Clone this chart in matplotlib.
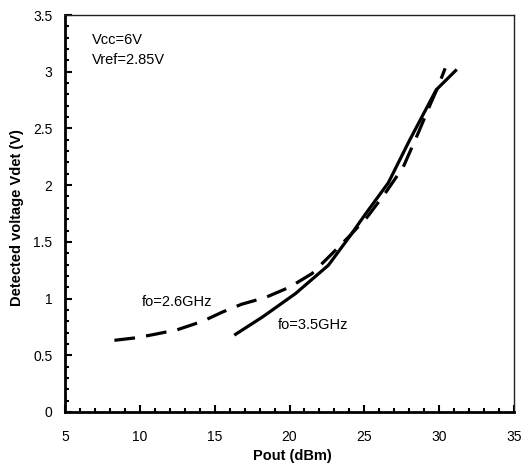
import matplotlib
matplotlib.use('Agg')
import matplotlib.pyplot as plt
from matplotlib.ticker import MultipleLocator

plt.rcParams['font.family'] = ['Liberation Sans', 'DejaVu Sans']

# fo = 2.6 GHz (dashed)
pout_26 = [8.3, 9.8, 11.0, 12.5, 14.2, 15.5, 16.8, 18.4, 20.0, 21.5, 22.8, 24.0, 25.2, 26.4, 27.6, 28.6, 29.4, 29.9, 30.4]
vdet_26 = [0.632, 0.655, 0.685, 0.725, 0.80, 0.88, 0.95, 1.01, 1.10, 1.22, 1.39, 1.55, 1.72, 1.93, 2.16, 2.46, 2.71, 2.86, 3.03]

# fo = 3.5 GHz (solid)
pout_35 = [16.4, 18.2, 20.4, 22.6, 24.0, 25.1, 26.6, 28.0, 29.8, 31.1]
vdet_35 = [0.685, 0.838, 1.044, 1.294, 1.544, 1.75, 2.02, 2.39, 2.84, 3.01]

fig = plt.figure(figsize=(5.23, 4.66), dpi=100)
ax = fig.add_axes([0.1243, 0.1159, 0.8585, 0.8519])

ax.plot(pout_26, vdet_26, color='black', lw=2.3, dashes=(6.5, 3.5))
ax.plot(pout_35, vdet_35, color='black', lw=2.3)

ax.set_xlim(5, 35)
ax.set_ylim(0, 3.5)
ax.xaxis.set_major_locator(MultipleLocator(5))
ax.xaxis.set_minor_locator(MultipleLocator(1))
ax.yaxis.set_major_locator(MultipleLocator(0.5))
ax.yaxis.set_minor_locator(MultipleLocator(0.1))
ax.set_yticks([0, 0.5, 1, 1.5, 2, 2.5, 3, 3.5])
ax.set_yticklabels(['0', '0.5', '1', '1.5', '2', '2.5', '3', '3.5'])

ax.tick_params(which='both', direction='in', labelsize=10, colors='black')
ax.tick_params(axis='x', which='major', length=5, width=1.5, pad=13)
ax.tick_params(axis='x', which='minor', length=3, width=1.5)
ax.tick_params(axis='y', which='major', length=5, width=1.5, pad=9)
ax.tick_params(axis='y', which='minor', length=3, width=1.5)

for s in ['left', 'bottom']:
    ax.spines[s].set_linewidth(2.0)
for s in ['top', 'right']:
    ax.spines[s].set_linewidth(1.0)
    ax.spines[s].set_color('#222222')

ax.set_xlabel('Pout (dBm)', fontsize=10.5, fontweight='bold')
ax.set_ylabel('Detected voltage Vdet (V)', fontsize=10.5, fontweight='bold')
ax.xaxis.set_label_coords(0.507, -0.092)
ax.yaxis.set_label_coords(-0.092, 0.489)

ax.text(6.8, 3.28, 'Vcc=6V', fontsize=10.5, va='center')
ax.text(6.8, 3.10, 'Vref=2.85V', fontsize=10.5, va='center')
ax.text(10.1, 0.97, 'fo=2.6GHz', fontsize=10.5, va='center')
ax.text(19.2, 0.767, 'fo=3.5GHz', fontsize=10.5, va='center')

fig.savefig('out.png', dpi=100)
